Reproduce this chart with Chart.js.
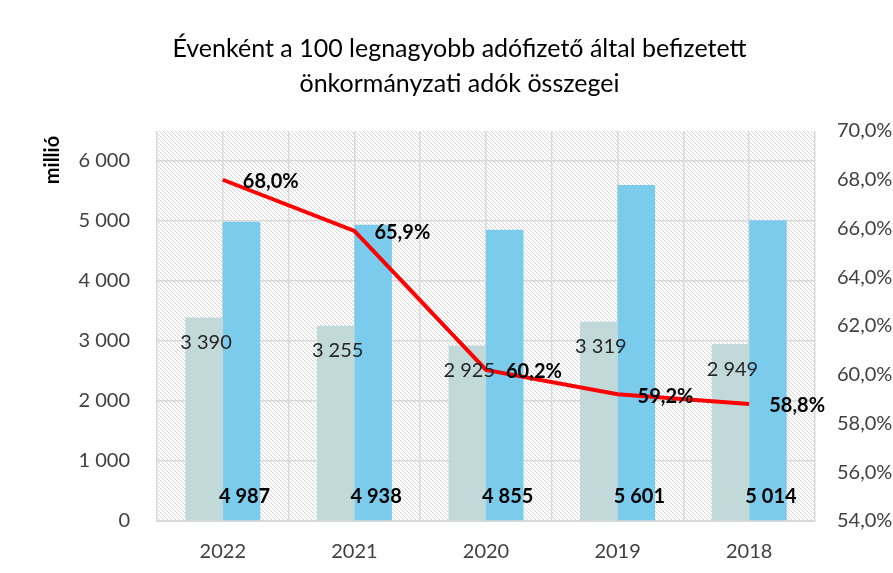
<!DOCTYPE html>
<html><head><meta charset="utf-8">
<script src="https://cdn.jsdelivr.net/npm/chart.js@4.4.1/dist/chart.umd.min.js"></script>
<style>
html,body{margin:0;padding:0;background:#fff;overflow:hidden;}
#frame{position:absolute;left:5px;top:12px;width:1000px;height:1000px;border:2px solid #d9d9d9;box-sizing:border-box;}
#wrap{position:absolute;left:0;top:0;width:893px;height:573px;}
</style></head><body>
<div id="frame"></div>
<div id="wrap"><canvas id="c"></canvas></div>
<script>
const years = ['2022','2021','2020','2019','2018'];
const seriesGrey = [3390, 3255, 2925, 3319, 2949];
const seriesBlue = [4987, 4938, 4855, 5601, 5014];
const sharePct = [68.0, 65.9, 60.2, 59.2, 58.8];
const leftTickValues = [0, 1000, 2000, 3000, 4000, 5000, 6000];
const rightTickValues = [54, 56, 58, 60, 62, 64, 66, 68, 70];
const titleLines = ['Évenként a 100 legnagyobb adófizető által befizetett', 'önkormányzati adók összegei'];
const leftAxisTitle = 'millió';

const FONT = 'Lato';
const fmtNum = v => String(Math.round(v)).replace(/\B(?=(\d{3})+(?!\d))/g, '\u00a0');
const fmtPct = v => v.toFixed(1).replace('.', ',') + '%';

function makeHatch() {
  const t = document.createElement('canvas');
  t.width = 4; t.height = 4;
  const g = t.getContext('2d');
  g.fillStyle = '#ffffff'; g.fillRect(0, 0, 4, 4);
  g.strokeStyle = '#d6d6d6'; g.lineWidth = 1;
  g.beginPath();
  g.moveTo(-1, -1); g.lineTo(5, 5);
  g.moveTo(-1, 3); g.lineTo(1, 5);
  g.moveTo(3, -1); g.lineTo(5, 1);
  g.stroke();
  return t;
}
const hatchTile = makeHatch();

const bgPlugin = {
  id: 'bg',
  beforeDraw(chart) {
    const { ctx, chartArea: a } = chart;
    ctx.save();
    ctx.fillStyle = '#fff';
    ctx.fillRect(0, 0, chart.width, chart.height);
    ctx.fillStyle = ctx.createPattern(hatchTile, 'repeat');
    ctx.fillRect(a.left, a.top, a.right - a.left, a.bottom - a.top);
    ctx.restore();
  }
};

const labelPlugin = {
  id: 'lbls',
  afterDatasetsDraw(chart) {
    const ctx = chart.ctx;
    ctx.save();
    chart.data.datasets.forEach((ds, i) => {
      const meta = chart.getDatasetMeta(i);
      meta.data.forEach((el, j) => {
        const v = ds.data[j];
        if (ds.lblKind === 'grey') {
          ctx.font = `normal 20px ${FONT}`;
          ctx.fillStyle = '#262626';
          ctx.textAlign = 'center'; ctx.textBaseline = 'middle';
          ctx.fillText(fmtNum(v), el.x + 2, el.y + 25);
        } else if (ds.lblKind === 'blue') {
          ctx.font = `bold 20px ${FONT}`;
          ctx.fillStyle = '#000';
          ctx.textAlign = 'center'; ctx.textBaseline = 'middle';
          ctx.fillText(fmtNum(v), el.x + 3, el.base - 24);
        } else if (ds.lblKind === 'line') {
          ctx.font = `bold 20px ${FONT}`;
          ctx.fillStyle = '#000';
          ctx.textAlign = 'left'; ctx.textBaseline = 'middle';
          ctx.fillText(fmtPct(v), el.x + 20, el.y + 2);
        }
      });
    });
    ctx.restore();
  }
};

const gridColor = '#d9d9d9';
const tickColor = '#404040';

new Chart(document.getElementById('c'), {
  data: {
    labels: years,
    datasets: [
      { type: 'line', data: sharePct, yAxisID: 'y2', borderColor: '#ff0000', borderWidth: 4,
        pointRadius: 0, tension: 0, fill: false, order: 0, lblKind: 'line' },
      { type: 'bar', data: seriesGrey, yAxisID: 'y', backgroundColor: '#c1d9d9',
        categoryPercentage: 0.57, barPercentage: 1, order: 1, lblKind: 'grey' },
      { type: 'bar', data: seriesBlue, yAxisID: 'y', backgroundColor: '#7acbec',
        categoryPercentage: 0.57, barPercentage: 1, order: 1, lblKind: 'blue' }
    ]
  },
  options: {
    responsive: true, maintainAspectRatio: false, animation: false,
    layout: { padding: { left: 27, right: 1, top: 0, bottom: 0 } },
    plugins: {
      legend: { display: false }, tooltip: { enabled: false },
      title: { display: true, text: titleLines, color: '#000',
        font: { family: FONT, size: 25, weight: 'normal', lineHeight: 1.4 },
        padding: { top: 31, bottom: 30 } }
    },
    scales: {
      x: { type: 'category', position: 'bottom', offset: true,
        grid: { offset: true, color: gridColor, lineWidth: 1.5, drawTicks: false },
        border: { display: true, color: gridColor, width: 2 },
        ticks: { color: tickColor, font: { family: FONT, size: 20 }, padding: 19 },
        afterFit(s) { s.height = 52; } },
      xc: { type: 'category', position: 'bottom', offset: true,
        grid: { offset: false, color: gridColor, lineWidth: 1.5, drawTicks: false },
        border: { display: false }, ticks: { display: false },
        afterFit(s) { s.height = 0; } },
      y: { position: 'left', min: 0, max: 6500,
        ticks: { color: tickColor, font: { family: FONT, size: 20 }, padding: 27, autoSkip: false,
          callback: v => fmtNum(v) },
        afterBuildTicks(s) { s.ticks = leftTickValues.map(v => ({ value: v })); },
        grid: { color: gridColor, lineWidth: 1.5, drawTicks: false },
        border: { display: false },
        title: { display: true, text: leftAxisTitle + '\u00a0', align: 'end', color: '#000',
          font: { family: FONT, size: 20, weight: 'bold', lineHeight: 1.2 }, padding: { top: 14, bottom: 0 } },
        afterFit(s) { s.width = 130; } },
      y2: { position: 'right', min: 54, max: 70,
        ticks: { color: tickColor, font: { family: FONT, size: 20 }, padding: 22, autoSkip: false,
          callback: v => fmtPct(v) },
        afterBuildTicks(s) { s.ticks = rightTickValues.map(v => ({ value: v })); },
        grid: { display: false, drawOnChartArea: false, drawTicks: false },
        border: { display: false },
        afterFit(s) { s.width = 77; } }
    }
  },
  plugins: [bgPlugin, labelPlugin]
});
</script>
</body></html>
